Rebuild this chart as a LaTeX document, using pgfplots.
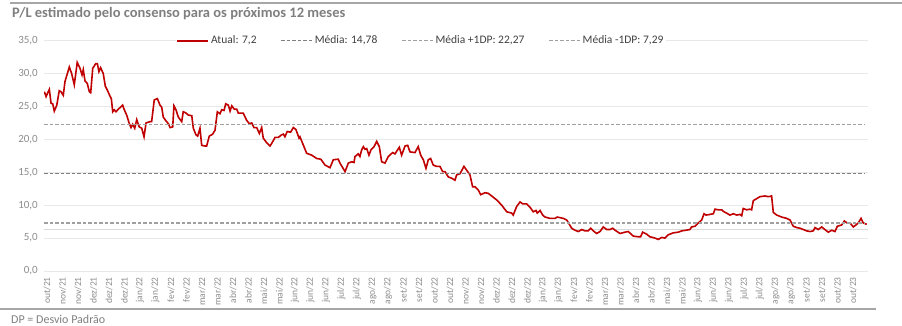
\documentclass[border=0pt]{standalone}
\usepackage{pgfplots}
\pgfplotsset{compat=1.18}
\usepackage{fontspec}
\setmainfont{Carlito}
\definecolor{redline}{HTML}{C00000}
\definecolor{txtgray}{HTML}{7F7F7F}
\definecolor{lblgray}{HTML}{8C8C8C}
\definecolor{legtxt}{HTML}{404040}
\definecolor{meangray}{HTML}{7F7F7F}
\definecolor{sdgray}{HTML}{A0A0A0}
\definecolor{gridgray}{HTML}{E8E8E8}
\definecolor{framegray}{HTML}{A6A6A6}
\definecolor{lightline}{HTML}{D9D9D9}
\begin{document}
\begin{tikzpicture}[x=1pt,y=1pt]
\useasboundingbox (0,0) rectangle (902,325);
\draw[framegray, line width=1.2pt] (10,322) -- (902,322);
\draw[framegray, line width=2pt] (0,16) -- (876,16);
\node[anchor=west, font=\fontsize{14.5}{16}\selectfont\bfseries, text=txtgray, inner sep=0pt] at (12,311) {P/L estimado pelo consenso para os próximos 12 meses};
\node[anchor=west, font=\fontsize{12}{14}\selectfont, text=txtgray, inner sep=0pt] at (11,6) {DP = Desvio Padrão};
\begin{axis}[
  at={(44pt,54pt)}, anchor=south west, scale only axis,
  width=824pt, height=230.3pt,
  xmin=-0.194, xmax=52.97, ymin=0, ymax=35,
  axis line style={draw=none},
  major tick length=0pt,
  ytick={0,5,...,35},
  ymajorgrids, grid style={gridgray, line width=0.7pt},
  xtick={0,...,52},
  xticklabels={out/21,nov/21,nov/21,dez/21,dez/21,dez/21,jan/22,jan/22,fev/22,fev/22,mar/22,mar/22,abr/22,abr/22,mai/22,mai/22,jun/22,jun/22,jun/22,jul/22,jul/22,ago/22,ago/22,set/22,set/22,out/22,out/22,nov/22,nov/22,dez/22,dez/22,dez/22,jan/23,jan/23,fev/23,fev/23,mar/23,mar/23,abr/23,abr/23,mai/23,mai/23,jun/23,jun/23,jun/23,jul/23,jul/23,ago/23,ago/23,set/23,set/23,out/23,out/23},
  xticklabel style={rotate=90, anchor=east, inner sep=0pt, font=\fontsize{9.5}{11}\selectfont, text=lblgray},
  xticklabel shift=6pt,
  yticklabel style={inner sep=0pt, font=\fontsize{11}{13}\selectfont, text=lblgray,
    /pgf/number format/fixed, /pgf/number format/fixed zerofill,
    /pgf/number format/precision=1, /pgf/number format/use comma,
    /pgf/number format/assume math mode=true},
  yticklabel shift=6pt,
  legend image code/.code={\draw[#1] (0pt,0pt) -- (31pt,0pt);},
  legend style={at={(rel axis cs:0.4575,1)}, anchor=center, draw=none, fill=white,
    inner sep=1pt, legend columns=4,
    font=\fontsize{11.5}{13}\selectfont, text=legtxt,
    nodes={inner sep=2pt},
    /tikz/every even column/.append style={column sep=22pt}},
]
\addplot[lightline, line width=1.5pt, forget plot] coordinates {(-0.194,6.3) (52.97,6.3)};
\addplot[redline, line width=1.6pt] coordinates {
(-0.17,27.25) (-0.06,26.5) (0.05,27.1) (0.15,27.6) (0.26,25.5) (0.37,25.4) (0.47,24.3) (0.63,25.2)
(0.79,27.4) (0.90,27.25) (1.05,26.7) (1.16,28.8) (1.44,31.0) (1.59,30.0) (1.76,28.3) (1.95,31.7)
(2.13,30.8) (2.26,29.8) (2.34,30.6) (2.45,28.9) (2.60,28.5) (2.73,27.25) (2.82,27.1) (2.95,30.8)
(3.14,31.5) (3.25,31.5) (3.35,30.3) (3.46,30.9) (3.63,30.0) (3.76,28.1) (3.89,27.5) (4.06,26.6)
(4.15,26.2) (4.24,24.2) (4.34,24.5) (4.45,24.2) (4.60,24.6) (4.75,24.9) (4.88,25.2) (4.97,24.6)
(5.14,23.7) (5.31,22.4) (5.42,21.8) (5.53,22.3) (5.66,21.7) (5.79,23.0) (5.95,21.9) (6.11,21.7)
(6.26,20.4) (6.39,22.5) (6.65,22.7) (6.75,22.7) (6.92,26.0) (7.12,26.2) (7.29,25.2) (7.40,24.9)
(7.50,23.4) (7.68,22.8) (7.83,22.4) (7.94,21.8) (8.11,21.9) (8.19,25.1) (8.32,24.5) (8.47,23.4)
(8.69,22.7) (8.79,24.2) (8.97,24.0) (9.12,23.7) (9.34,23.6) (9.44,21.7) (9.61,20.7) (9.72,20.5)
(9.87,21.7) (9.98,19.1) (10.19,19.0) (10.30,19.0) (10.47,20.5) (10.69,20.8) (10.84,21.4) (10.99,24.2)
(11.16,23.9) (11.27,24.5) (11.42,24.4) (11.53,25.4) (11.70,25.2) (11.81,24.3) (11.92,25.1) (12.08,24.6)
(12.24,24.6) (12.34,24.0) (12.66,24.0) (12.88,22.9) (13.05,22.4) (13.21,22.5) (13.35,21.8) (13.53,21.8)
(13.70,20.9) (13.85,21.8) (13.95,20.2) (14.17,19.5) (14.39,19.0) (14.50,19.4) (14.71,20.3) (14.92,20.3)
(15.14,20.7) (15.25,20.8) (15.35,20.4) (15.50,21.2) (15.72,21.1) (15.89,21.8) (16.06,21.5) (16.26,20.2)
(16.32,20.4) (16.75,17.9) (17.08,17.6) (17.40,17.1) (17.66,17.0) (17.94,16.1) (18.26,15.7) (18.47,16.9)
(18.79,17.0) (18.90,16.4) (19.23,15.1) (19.44,16.4) (19.66,16.6) (19.81,16.5) (19.87,17.4) (20.08,17.8)
(20.19,17.4) (20.30,18.4) (20.41,18.9) (20.52,18.5) (20.63,18.6) (20.77,17.6) (20.90,18.4) (21.10,18.9)
(21.27,19.7) (21.44,18.9) (21.59,16.6) (21.81,16.4) (22.02,17.4) (22.30,18.0) (22.45,17.8) (22.73,18.8)
(22.88,17.6) (23.10,19.0) (23.27,19.1) (23.42,18.1) (23.74,18.0) (23.95,18.9) (24.11,17.6) (24.28,16.9)
(24.45,15.6) (24.60,16.9) (24.75,17.1) (24.92,16.1) (25.14,15.9) (25.35,15.9) (25.53,15.1) (25.68,15.1)
(25.89,14.3) (26.11,14.1) (26.32,13.8) (26.43,14.6) (26.65,14.8) (26.90,15.9) (27.08,15.3) (27.29,14.6)
(27.46,12.8) (27.61,12.8) (27.83,12.3) (27.98,11.6) (28.26,11.9) (28.47,11.8) (28.69,11.4) (29.01,10.8)
(29.34,10.0) (29.66,9.0) (29.98,8.8) (30.08,8.5) (30.30,9.8) (30.52,10.5) (30.69,10.2) (30.95,10.2)
(31.16,9.7) (31.37,9.0) (31.55,9.2) (31.63,8.8) (31.81,9.2) (31.98,8.5) (32.13,8.2) (32.45,8.0)
(32.77,8.0) (32.92,8.2) (33.31,8.0) (33.53,7.75) (33.70,7.1) (33.85,6.5) (34.06,6.2) (34.28,6.0)
(34.50,6.3) (34.71,6.1) (34.92,6.1) (35.08,6.5) (35.25,6.1) (35.46,5.7) (35.68,6.0) (35.89,6.7)
(36.11,6.3) (36.32,6.3) (36.50,6.5) (36.65,6.2) (36.97,5.7) (37.29,5.9) (37.50,6.0) (37.83,5.3)
(38.15,5.2) (38.30,5.2) (38.43,5.9) (38.69,5.6) (38.90,5.2) (39.23,5.0) (39.44,4.8) (39.66,5.1)
(39.87,5.0) (40.08,5.5) (40.41,5.8) (40.73,5.9) (40.95,6.1) (41.23,6.2) (41.48,6.3) (41.59,6.7)
(41.81,6.8) (42.02,7.3) (42.24,7.75) (42.39,8.7) (42.52,8.5) (42.77,8.6) (42.99,8.7) (43.10,9.4)
(43.31,9.3) (43.53,9.3) (43.68,9.0) (43.85,8.8) (44.06,8.5) (44.28,8.7) (44.50,8.5) (44.71,8.6)
(44.82,8.4) (44.92,9.5) (45.14,9.3) (45.35,9.4) (45.46,9.3) (45.57,10.7) (45.79,11.0) (46.00,11.3)
(46.32,11.4) (46.54,11.3) (46.75,11.4) (46.86,8.9) (47.08,8.5) (47.40,8.2) (47.72,8.0) (47.94,7.75)
(48.15,6.8) (48.37,6.6) (48.58,6.5) (48.80,6.3) (49.01,6.1) (49.23,6.0) (49.44,6.1) (49.55,6.6)
(49.76,6.3) (49.98,6.7) (50.19,6.3) (50.41,5.9) (50.63,6.2) (50.84,6.0) (50.99,6.8) (51.27,7.0)
(51.44,7.6) (51.63,7.3) (51.81,7.3) (52.02,6.7) (52.19,7.0) (52.34,7.3) (52.52,8.0) (52.66,7.3)
(52.89,7.1)};
\addlegendentry{Atual: 7,2}
\addplot[meangray, line width=1.3pt, dash pattern=on 3.5pt off 2pt] coordinates {(-0.194,14.78) (52.8,14.78)};
\addlegendentry{Média: 14,78}
\addplot[sdgray, line width=1.3pt, dash pattern=on 3.5pt off 2pt] coordinates {(-0.194,22.27) (52.8,22.27)};
\addlegendentry{Média +1DP: 22,27}
\addplot[sdgray, line width=1.3pt, dash pattern=on 3.5pt off 2pt] coordinates {(-0.194,7.29) (52.8,7.29)};
\addlegendentry{Média -1DP: 7,29}
\end{axis}
\end{tikzpicture}
\end{document}
